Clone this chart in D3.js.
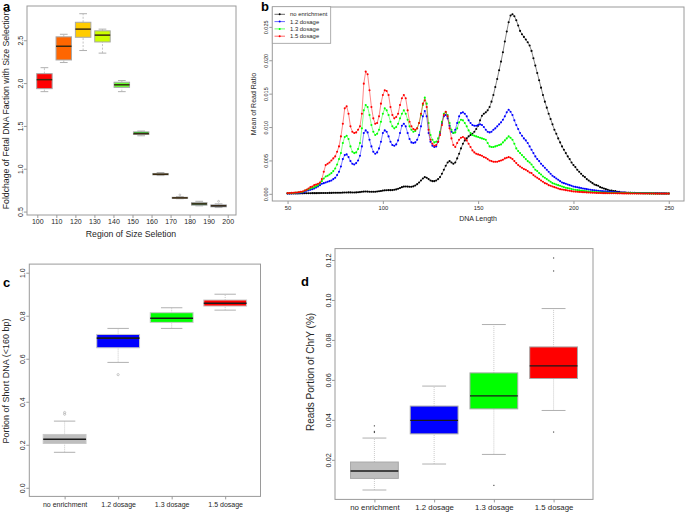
<!DOCTYPE html>
<html><head><meta charset="utf-8">
<script src="https://cdn.jsdelivr.net/npm/d3@7"></script>
<style>body{margin:0;background:#fff} svg{display:block} text{font-family:"Liberation Sans",Arial,sans-serif}</style>
</head><body><svg id="fig" width="685" height="513"></svg>
<script>
// ---------- Panel a data ----------
const aTicks = [100,110,120,130,140,150,160,170,180,190,200];
const aLow  = [1.90, 2.24, 2.38, 2.35, 1.90, 1.385, 0.92, 0.65, 0.567, 0.547];
const aQ1   = [1.935,2.27, 2.535,2.48, 1.95, 1.40, 0.928, 0.655, 0.575, 0.555];
const aMed  = [2.04, 2.43, 2.63, 2.56, 1.98, 1.41, 0.936, 0.66, 0.59, 0.567];
const aQ3   = [2.11, 2.54, 2.71, 2.61, 2.01, 1.43, 0.945, 0.667, 0.605, 0.578];
const aHigh = [2.18, 2.57, 2.81, 2.63, 2.03, 1.44, 0.956, 0.675, 0.62, 0.59];
const aOut  = [[],[],[],[],[],[],[],[0.695],[],[0.62]];
const aColors = ["#FF0000","#FF6600","#FFCC00","#CCFF00","#66FF33","#00CC00","#009900","#111111","#339977","#003399"];
const aYTicks = [0.5,1.0,1.5,2.0,2.5];

// ---------- Panel b data (DNA length 50..250) ----------
const bStart = 50;
const bNoEnrich = [
0.00005,0.00005,0.00005,0.00005,0.00005,0.00006,0.00006,0.00007,0.00007,0.00008,
0.00008,0.00009,0.00009,0.0001,0.0001,0.0001,0.00011,0.00011,0.00012,0.00012,
0.00013,0.00013,0.00014,0.00014,0.00015,0.00015,0.00016,0.00016,0.00017,0.00018,
0.00019,0.0002,0.00021,0.00021,0.0002,0.0002,0.00021,0.00023,0.00026,0.0003,
0.00033,0.00034,0.00033,0.00031,0.0003,0.0003,0.00031,0.00034,0.00038,0.00043,
0.00048,0.00052,0.00054,0.00055,0.00055,0.00056,0.0006,0.00066,0.00075,0.00088,
0.001,0.00108,0.0011,0.00108,0.00105,0.00106,0.00112,0.00125,0.00145,0.0017,
0.002,0.0023,0.0025,0.0024,0.0022,0.002,0.0019,0.0019,0.002,0.0022,
0.0025,0.003,0.0036,0.0042,0.0047,0.0049,0.0047,0.0045,0.0047,0.0053,
0.006,0.0068,0.0075,0.008,0.0083,0.0086,0.0088,0.009,0.0093,0.0097,
0.0102,0.011,0.0117,0.012,0.0122,0.0125,0.013,0.0138,0.0148,0.016,
0.0172,0.0185,0.0198,0.0212,0.0228,0.0243,0.0257,0.0267,0.0269,0.0266,
0.026,0.0252,0.0244,0.0239,0.0235,0.0231,0.0227,0.0222,0.0214,0.0203,
0.0192,0.0181,0.017,0.0159,0.0148,0.0138,0.0129,0.012,0.0112,0.0104,
0.0096,0.009,0.0083,0.0077,0.0071,0.0066,0.0061,0.0056,0.0052,0.0047,
0.0043,0.004,0.0036,0.0033,0.003,0.0027,0.0025,0.0022,0.002,0.0018,
0.0016,0.0014,0.0013,0.0012,0.001,0.0009,0.0008,0.0007,0.0006,0.0005,
0.0005,0.0004,0.0004,0.0003,0.0003,0.0002,0.0002,0.00018,0.00016,0.00015,
0.00014,0.00013,0.00012,0.00011,0.0001,0.0001,0.00009,0.00009,0.00008,0.00008,
0.00007,0.00007,0.00006,0.00006,0.00006,0.00005,0.00005,0.00005,0.00005,0.00004,0.00004];
const bDose12 = [
0.00005,0.00006,0.00007,0.00008,0.00009,0.0001,0.00012,0.00015,0.0002,0.00028,
0.00045,0.00052,0.0006,0.0007,0.0008,0.00095,0.0011,0.0013,0.0015,0.0016,
0.0017,0.0018,0.0019,0.002,0.0022,0.0024,0.0028,0.0033,0.0041,0.0052,
0.0058,0.0059,0.0055,0.0049,0.0045,0.0044,0.0046,0.005,0.0057,0.0071,
0.0091,0.0095,0.0092,0.0081,0.0071,0.0063,0.006,0.0062,0.0068,0.0078,
0.0091,0.0095,0.0093,0.0086,0.0078,0.0073,0.0072,0.0074,0.008,0.0091,
0.0102,0.0105,0.0101,0.0091,0.0082,0.0077,0.0076,0.0077,0.0081,0.0088,
0.0101,0.0116,0.0124,0.0116,0.0091,0.0078,0.0072,0.007,0.0071,0.0078,
0.0091,0.0106,0.0116,0.0118,0.0113,0.0102,0.0093,0.0091,0.0096,0.0106,
0.0116,0.0121,0.0122,0.012,0.0116,0.011,0.0106,0.0103,0.0102,0.0102,
0.0103,0.0104,0.0103,0.01,0.0096,0.0093,0.0092,0.0093,0.0096,0.0098,
0.0101,0.0104,0.0107,0.0111,0.0116,0.0122,0.0126,0.0123,0.0118,0.011,
0.0103,0.0097,0.0091,0.0087,0.0083,0.008,0.0076,0.0071,0.0066,0.0061,
0.0056,0.0052,0.0049,0.0045,0.0042,0.0039,0.0036,0.0033,0.003,0.0027,
0.0025,0.0023,0.0021,0.0019,0.0017,0.0016,0.0015,0.0014,0.0013,0.0012,
0.0011,0.00104,0.00098,0.00092,0.00086,0.0008,0.00075,0.0007,0.00065,0.0006,
0.00055,0.00052,0.00049,0.00046,0.00043,0.0004,0.00038,0.00036,0.00034,0.00032,
0.0003,0.00028,0.00026,0.00024,0.00022,0.0002,0.00019,0.00018,0.00017,0.00016,
0.00015,0.00014,0.00014,0.00013,0.00013,0.00012,0.00012,0.00011,0.00011,0.0001,
0.0001,0.00009,0.00009,0.00008,0.00008,0.00007,0.00007,0.00006,0.00006,0.00005,0.00005];
const bDose13 = [
0.00008,0.0001,0.00011,0.00013,0.00015,0.00018,0.0002,0.00024,0.0003,0.00045,
0.0006,0.0007,0.0008,0.0009,0.001,0.00115,0.0013,0.0016,0.0019,0.0023,
0.0026,0.0027,0.0029,0.0031,0.0034,0.0038,0.0044,0.0052,0.0061,0.0076,
0.0085,0.0087,0.0082,0.0071,0.0063,0.0061,0.0062,0.0067,0.0076,0.0098,
0.0125,0.0133,0.013,0.0118,0.0103,0.0093,0.0088,0.009,0.0096,0.0108,
0.012,0.0128,0.0125,0.0118,0.0108,0.0101,0.0098,0.01,0.0105,0.0113,
0.012,0.0125,0.012,0.0111,0.0101,0.0096,0.0093,0.0094,0.0098,0.0106,
0.0118,0.0133,0.0144,0.0135,0.0106,0.0088,0.0081,0.0077,0.0078,0.0083,
0.0093,0.0108,0.012,0.0122,0.0118,0.0106,0.0096,0.0091,0.0092,0.0098,
0.0107,0.0111,0.011,0.0106,0.0101,0.0095,0.0091,0.0088,0.0087,0.0086,
0.0085,0.0084,0.0083,0.0082,0.0081,0.0076,0.0071,0.007,0.007,0.0071,
0.0072,0.0073,0.0074,0.0077,0.008,0.0083,0.0086,0.0084,0.0081,0.0075,
0.0068,0.0064,0.0061,0.0058,0.0055,0.0052,0.0049,0.0047,0.0044,0.004,
0.0036,0.0034,0.0031,0.0029,0.0026,0.0024,0.0022,0.002,0.0018,0.0016,
0.0015,0.0014,0.0013,0.0012,0.0011,0.001,0.0009,0.00085,0.0008,0.00072,
0.00065,0.0006,0.00056,0.00052,0.00048,0.00045,0.00042,0.00038,0.00035,0.00032,
0.0003,0.00028,0.00026,0.00024,0.00022,0.0002,0.00019,0.00018,0.00017,0.00016,
0.00015,0.00014,0.00014,0.00013,0.00013,0.00012,0.00012,0.00011,0.00011,0.0001,
0.0001,0.0001,0.00009,0.00009,0.00008,0.00008,0.00008,0.00007,0.00007,0.00007,
0.00006,0.00006,0.00006,0.00005,0.00005,0.00005,0.00005,0.00004,0.00004,0.00004,0.00004];
const bDose15 = [
0.0001,0.00012,0.00014,0.00016,0.00018,0.0002,0.00025,0.0003,0.00035,0.0005,
0.0006,0.0008,0.001,0.0011,0.0013,0.0014,0.0015,0.0017,0.0022,0.0033,
0.0043,0.0045,0.0047,0.005,0.0053,0.0056,0.0063,0.0071,0.0086,0.0105,
0.0128,0.0131,0.012,0.0101,0.0093,0.0091,0.0092,0.0096,0.0101,0.012,
0.0165,0.0183,0.0179,0.0155,0.013,0.0113,0.0105,0.0106,0.0116,0.0135,
0.0148,0.0155,0.0154,0.0148,0.013,0.0118,0.0113,0.0115,0.012,0.0133,
0.0143,0.0148,0.0143,0.0125,0.0108,0.0101,0.0097,0.0096,0.0098,0.0106,
0.012,0.0135,0.014,0.013,0.0096,0.0081,0.0075,0.0072,0.0073,0.0078,
0.0088,0.0103,0.0118,0.0123,0.0116,0.0098,0.0083,0.0073,0.007,0.0076,
0.0081,0.0084,0.0085,0.0083,0.008,0.0075,0.007,0.0065,0.0062,0.006,
0.0059,0.0058,0.0057,0.0055,0.0054,0.0052,0.005,0.0049,0.0048,0.0048,
0.0048,0.0049,0.005,0.0051,0.0053,0.0054,0.0055,0.0054,0.0052,0.0049,
0.0046,0.0043,0.0041,0.0039,0.0037,0.0036,0.0034,0.0032,0.0031,0.0028,
0.0026,0.0024,0.0022,0.002,0.0018,0.0016,0.0015,0.0013,0.0012,0.0011,
0.001,0.0009,0.0008,0.0007,0.00065,0.0006,0.00055,0.0005,0.00045,0.0004,
0.00035,0.00033,0.00031,0.00029,0.00027,0.00025,0.00023,0.00021,0.0002,0.00018,
0.00016,0.00015,0.00014,0.00013,0.00012,0.00011,0.0001,0.0001,0.00009,0.00009,
0.00008,0.00008,0.00008,0.00007,0.00007,0.00007,0.00006,0.00006,0.00006,0.00006,
0.00005,0.00005,0.00005,0.00005,0.00005,0.00005,0.00004,0.00004,0.00004,0.00004,
0.00004,0.00004,0.00004,0.00003,0.00003,0.00003,0.00003,0.00003,0.00003,0.00003,0.00003];
const bSeriesNames = ["no enrichment","1.2 dosage","1.3 dosage","1.5 dosage"];
const bColors = ["#000000","#0000FF","#00FF00","#FF0000"];
const bXTicks = [50,100,150,200,250];
const bYTicks = [0,0.005,0.010,0.015,0.020,0.025];

// ---------- Panels c & d data ----------
const groups = ["no enrichment","1.2 dosage","1.3 dosage","1.5 dosage"];
const groupColors = ["#BEBEBE","#0000FF","#00FF00","#FF0000"];
const cLow  = [0.165, 0.583, 0.741, 0.826];
const cQ1   = [0.206, 0.651, 0.769, 0.845];
const cMed  = [0.226, 0.696, 0.788, 0.858];
const cQ3   = [0.248, 0.713, 0.814, 0.873];
const cHigh = [0.310, 0.741, 0.837, 0.900];
const cOut  = [[0.342,0.350],[0.526],[],[]];
const cYTicks = [0,0.2,0.4,0.6,0.8,1.0];
const dLow  = [0.0049, 0.0179, 0.0227, 0.0447];
const dQ1   = [0.0107, 0.0330, 0.0455, 0.0607];
const dMed  = [0.0144, 0.0397, 0.0520, 0.0670];
const dQ3   = [0.0189, 0.0469, 0.0635, 0.0765];
const dHigh = [0.0309, 0.0569, 0.0877, 0.0957];
const dOut  = [[0.0337,0.0342,0.0370],[],[0.0072],[0.121,0.1145,0.0339]];
const dYTicks = [0.02,0.04,0.06,0.08,0.10,0.12];

// ---------- drawing ----------
const svg = d3.select("#fig");
const FG = "#262626", FRAME = "#9a9a9a";

function frame(x0,y0,x1,y1){
  svg.append("rect").attr("x",x0).attr("y",y0).attr("width",x1-x0).attr("height",y1-y0)
    .attr("fill","none").attr("stroke",FRAME).attr("stroke-width",1);
}
function letter(t,x,y){
  svg.append("text").attr("x",x).attr("y",y).attr("font-size",13).attr("font-weight","bold")
    .attr("fill","#000").text(t);
}
function yAxisRot(scale, ticks, x0, fmt, fs, gap){
  const g = svg.append("g").attr("transform",`translate(${x0},0)`)
    .call(d3.axisLeft(scale).tickValues(ticks).tickSize(3).tickSizeOuter(0).tickFormat(fmt));
  g.select(".domain").attr("stroke",FRAME);
  g.selectAll(".tick line").attr("stroke",FRAME);
  g.selectAll(".tick text").attr("transform","rotate(-90)").attr("x",0).attr("y",-gap)
    .attr("dy",0).attr("text-anchor","middle").attr("font-size",fs).attr("fill",FG)
    .attr("font-family","Liberation Sans, Arial, sans-serif");
  return g;
}
function xAxis(scale, ticks, y0, fmt, fs, pad){
  const g = svg.append("g").attr("transform",`translate(0,${y0})`)
    .call(d3.axisBottom(scale).tickValues(ticks).tickSize(3).tickSizeOuter(0).tickPadding(pad).tickFormat(fmt));
  g.select(".domain").attr("stroke",FRAME);
  g.selectAll(".tick line").attr("stroke",FRAME);
  g.selectAll(".tick text").attr("font-size",fs).attr("fill",FG)
    .attr("font-family","Liberation Sans, Arial, sans-serif");
  return g;
}
function yTitle(t,x,y,fs){
  svg.append("text").attr("transform",`translate(${x},${y}) rotate(-90)`).attr("text-anchor","middle")
    .attr("dominant-baseline","central").attr("font-size",fs).attr("fill",FG).text(t);
}
function xTitle(t,x,y,fs){
  svg.append("text").attr("x",x).attr("y",y).attr("text-anchor","middle")
    .attr("dominant-baseline","central").attr("font-size",fs).attr("fill",FG).text(t);
}
function boxes(xs, ys, n, low,q1,med,q3,high,outs,colors,opt){
  const g = svg.append("g");
  for(let i=0;i<n;i++){
    const cx = xs(i+1), hw = (xs(1.4)-xs(1)), sw = hw/2;
    g.append("line").attr("x1",cx).attr("x2",cx).attr("y1",ys(low[i])).attr("y2",ys(q1[i]))
      .attr("stroke",opt.whisk).attr("stroke-width",0.8).attr("stroke-dasharray",opt.dash);
    g.append("line").attr("x1",cx).attr("x2",cx).attr("y1",ys(q3[i])).attr("y2",ys(high[i]))
      .attr("stroke",opt.whisk).attr("stroke-width",0.8).attr("stroke-dasharray",opt.dash);
    [low[i],high[i]].forEach(v=>g.append("line").attr("x1",cx-sw).attr("x2",cx+sw)
      .attr("y1",ys(v)).attr("y2",ys(v)).attr("stroke",opt.cap).attr("stroke-width",1));
    g.append("rect").attr("x",cx-hw).attr("width",2*hw).attr("y",ys(q3[i]))
      .attr("height",Math.max(0.8,ys(q1[i])-ys(q3[i]))).attr("fill",colors[i])
      .attr("stroke",opt.border).attr("stroke-width",1);
    g.append("line").attr("x1",cx-hw).attr("x2",cx+hw).attr("y1",ys(med[i])).attr("y2",ys(med[i]))
      .attr("stroke",opt.median).attr("stroke-width",opt.medW);
    outs[i].forEach(v=>{
      if(opt.outR>0) g.append("circle").attr("cx",cx).attr("cy",ys(v)).attr("r",opt.outR)
        .attr("fill","none").attr("stroke",opt.cap).attr("stroke-width",0.7);
      else g.append("rect").attr("x",cx-0.6).attr("y",ys(v)-0.6).attr("width",1.2).attr("height",1.2).attr("fill","#555");
    });
  }
}

// ===== Panel a =====
{
  const L=27,R=236,T=6,B=215;
  const xs = d3.scaleLinear().domain([0.1,10.9]).range([L,R]);
  const ys = d3.scaleLinear().domain([0.46,2.90]).range([B,T]);
  const xl = d3.scaleLinear().domain([100,200]).range([37.3,227.7]);
  frame(L,T,R,B);
  boxes(xs,ys,10,aLow,aQ1,aMed,aQ3,aHigh,aOut,aColors,
    {whisk:"#b5b5b5",dash:"2,1.5",cap:"#b0b0b0",border:"#a8a8a8",median:"#3a2a10",medW:1.5,outR:0.9});
  yAxisRot(ys,aYTicks,L,d3.format(".1f"),7,4.5).select(".domain").remove();
  xAxis(xl,aTicks,B,d3.format("d"),7,1.5).select(".domain").remove();
  xTitle("Region of Size Seletion",131,234,8.7);
  yTitle("Foldchage of Fetal DNA Faction with Size Selection",6,110,8.7);
  letter("a",3,11);
}

// ===== Panel b =====
{
  const L=272.3,R=684,T=7,B=201;
  const n = bNoEnrich.length;
  const lengths = d3.range(bStart,bStart+n);
  const ext = d3.extent(lengths), pad=(ext[1]-ext[0])*0.04;
  const xs = d3.scaleLinear().domain([ext[0]-pad,ext[1]+pad]).range([L,R]);
  const ymax = d3.max(bNoEnrich), ypad = ymax*0.04;
  const ys = d3.scaleLinear().domain([-ypad,ymax+ypad]).range([B,T]);
  frame(L,T,R,B);
  const series=[bNoEnrich,bDose12,bDose13,bDose15];
  const line = d3.line().x((d,i)=>xs(lengths[i])).y(d=>ys(d));
  const clip = svg.append("clipPath").attr("id","clipb").append("rect")
    .attr("x",L).attr("y",T).attr("width",R-L).attr("height",B-T);
  const gb = svg.append("g").attr("clip-path","url(#clipb)");
  series.forEach((s,k)=>{
    gb.append("path").datum(s).attr("d",line).attr("fill","none")
      .attr("stroke",bColors[k]).attr("stroke-width",0.6).attr("stroke-opacity",0.8);
    gb.selectAll(null).data(s).enter().append("circle")
      .attr("cx",(d,i)=>xs(lengths[i])).attr("cy",d=>ys(d)).attr("r",1.05).attr("fill",bColors[k]);
  });
  yAxisRot(ys,bYTicks,L,d3.format(".3f"),5.5,4).select(".domain").remove();
  xAxis(xs,bXTicks,B,d3.format("d"),5.8,2).select(".domain").remove();
  xTitle("DNA Length",478,218,7);
  yTitle("Mean of Read Ratio",253,104,7);
  // legend
  const lg = svg.append("g");
  lg.append("rect").attr("x",L).attr("y",6.7).attr("width",58.4).attr("height",36.6)
    .attr("fill","#fff").attr("stroke",FRAME).attr("stroke-width",0.8);
  bSeriesNames.forEach((nm,k)=>{
    const y = 14.3 + k*7.3;
    lg.append("line").attr("x1",274.5).attr("x2",285).attr("y1",y).attr("y2",y)
      .attr("stroke",bColors[k]).attr("stroke-width",0.6);
    lg.append("circle").attr("cx",279.7).attr("cy",y).attr("r",1).attr("fill",bColors[k]);
    lg.append("text").attr("x",290).attr("y",y).attr("dominant-baseline","central")
      .attr("font-size",5.9).attr("fill",FG).text(nm);
  });
  letter("b",261,11);
}

// ===== Panel c =====
{
  const L=29.3,R=260.5,T=264.1,B=496.4;
  const xs = d3.scaleLinear().domain([0.34,4.66]).range([L,R]);
  const ys = d3.scaleLinear().domain([-0.04,1.04]).range([B,T]);
  frame(L,T,R,B);
  boxes(xs,ys,4,cLow,cQ1,cMed,cQ3,cHigh,cOut,groupColors,
    {whisk:"#bdbdbd",dash:"1,1",cap:"#b0b0b0",border:"#c8c8c8",median:"#1a1a1a",medW:1.6,outR:1.1});
  yAxisRot(ys,cYTicks,L,d3.format(".1f"),7,4.5).select(".domain").remove();
  const gx = xAxis(xs,[1,2,3,4],B,(d,i)=>groups[i],7,2.5);
  gx.select(".domain").remove();
  yTitle("Portion of Short DNA (<160 bp)",6,381,9);
  letter("c",3,287);
}

// ===== Panel d =====
{
  const L=335,R=593,T=248.6,B=499.4;
  const xs = d3.scaleLinear().domain([0.34,4.66]).range([L,R]);
  const ys = d3.scaleLinear().domain([0.0002,0.1257]).range([B,T]);
  frame(L,T,R,B);
  boxes(xs,ys,4,dLow,dQ1,dMed,dQ3,dHigh,dOut,groupColors,
    {whisk:"#bdbdbd",dash:"1,1",cap:"#b0b0b0",border:"#a8a8a8",median:"#1a1a1a",medW:1.3,outR:0});
  yAxisRot(ys,dYTicks,L,d3.format(".2f"),7.3,4.5).select(".domain").remove();
  const gx = xAxis(xs,[1,2,3,4],B,(d,i)=>groups[i],7.8,2);
  gx.select(".domain").remove();
  yTitle("Reads Portion of ChrY (%)",310,372,10);
  letter("d",301,286);
}
</script></body></html>
